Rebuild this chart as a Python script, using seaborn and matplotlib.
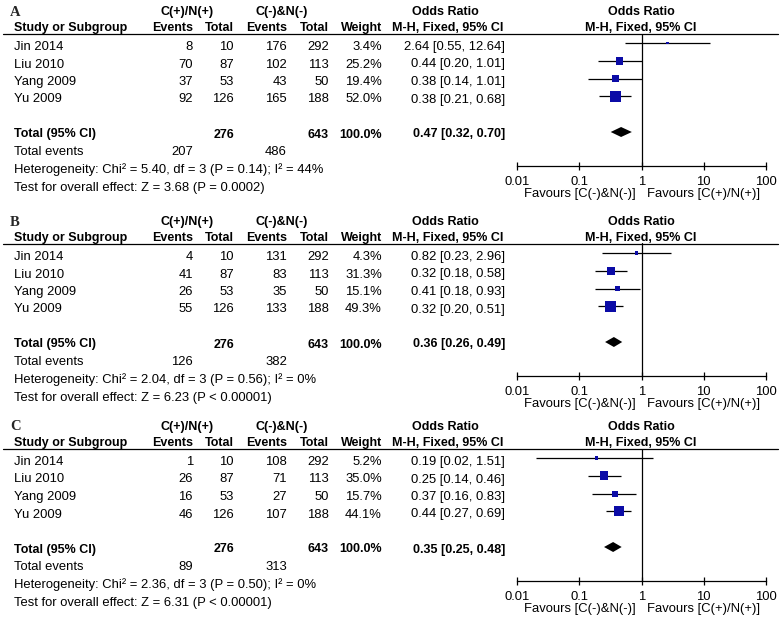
import numpy as np
import matplotlib
matplotlib.use("Agg")
import matplotlib.pyplot as plt
import seaborn as sns

# data (A, B, C)
panels = ["A", "B", "C"]
studies = ["Jin 2014", "Liu 2010", "Yang 2009", "Yu 2009"]
pos_total = [10, 87, 53, 126]
neg_total = [292, 113, 50, 188]
pos_events = [[8, 70, 37, 92], [4, 41, 26, 55], [1, 26, 16, 46]]
neg_events = [[176, 102, 43, 165], [131, 83, 35, 133], [108, 71, 27, 107]]
weights = [[3.4, 25.2, 19.4, 52.0], [4.3, 31.3, 15.1, 49.3], [5.2, 35.0, 15.7, 44.1]]
odds = [[2.64, 0.44, 0.38, 0.38], [0.82, 0.32, 0.41, 0.32], [0.19, 0.25, 0.37, 0.44]]
ci_lo = [[0.55, 0.20, 0.14, 0.21], [0.23, 0.18, 0.18, 0.20], [0.02, 0.14, 0.16, 0.27]]
ci_hi = [[12.64, 1.01, 1.01, 0.68], [2.96, 0.58, 0.93, 0.51], [1.51, 0.46, 0.83, 0.69]]
total_or = [0.47, 0.36, 0.35]
total_lo = [0.32, 0.26, 0.25]
total_hi = [0.70, 0.49, 0.48]
total_pos_events = [207, 126, 89]
total_neg_events = [486, 382, 313]
chi2 = [5.40, 2.04, 2.36]
chi2_p = [0.14, 0.56, 0.50]
i2 = [44, 0, 0]
z_vals = [3.68, 6.23, 6.31]
z_p = ["= 0.0002", "< 0.00001", "< 0.00001"]
ticks = [0.01, 0.1, 1, 10, 100]
tick_labels = ["0.01", "0.1", "1", "10", "100"]

sns.set_style("white")
plt.rcParams["font.family"] = ["Liberation Sans", "DejaVu Sans"]

W, H = 782, 622
fig = plt.figure(figsize=(W / 100, H / 100), dpi=100)
bg = fig.add_axes([0, 0, 1, 1])
bg.set_xlim(0, W)
bg.set_ylim(H, 0)
bg.axis("off")

fs = 9.4      # regular text
fs_b = 9.0    # bold text
blue = "#0b0ba6"
offsets = [0, 210, 415]

def txt(x, y, s, ha="left", bold=False, **kw):
    bg.text(x, y, s, ha=ha, va="center", fontsize=fs_b if bold else fs,
            fontweight="bold" if bold else "normal", color="black", **kw)

for p, off in enumerate(offsets):
    # header
    bg.text(10, 12 + off, panels[p], ha="left", va="center", fontsize=10.5,
            fontweight="bold", family="Liberation Serif")
    txt(187, 12 + off, "C(+)/N(+)", ha="center", bold=True)
    txt(282, 12 + off, "C(-)&N(-)", ha="center", bold=True)
    txt(445, 12 + off, "Odds Ratio", ha="center", bold=True)
    txt(641, 12 + off, "Odds Ratio", ha="center", bold=True)
    txt(14, 28 + off, "Study or Subgroup", bold=True)
    txt(193, 28 + off, "Events", ha="right", bold=True)
    txt(234, 28 + off, "Total", ha="right", bold=True)
    txt(287, 28 + off, "Events", ha="right", bold=True)
    txt(329, 28 + off, "Total", ha="right", bold=True)
    txt(382, 28 + off, "Weight", ha="right", bold=True)
    txt(448, 28 + off, "M-H, Fixed, 95% CI", ha="center", bold=True)
    txt(641, 28 + off, "M-H, Fixed, 95% CI", ha="center", bold=True)
    bg.plot([3, 778], [33.5 + off, 33.5 + off], color="black", lw=0.9)

    # study rows
    for i, name in enumerate(studies):
        y = 47 + 17.5 * i + off
        txt(14, y, name)
        txt(193, y, str(pos_events[p][i]), ha="right")
        txt(234, y, str(pos_total[i]), ha="right")
        txt(287, y, str(neg_events[p][i]), ha="right")
        txt(329, y, str(neg_total[i]), ha="right")
        txt(382, y, f"{weights[p][i]:.1f}%", ha="right")
        txt(505, y, f"{odds[p][i]:.2f} [{ci_lo[p][i]:.2f}, {ci_hi[p][i]:.2f}]", ha="right")

    y = 134.5 + off
    txt(14, y, "Total (95% CI)", bold=True)
    txt(234, y, str(sum(pos_total)), ha="right", bold=True)
    txt(329, y, str(sum(neg_total)), ha="right", bold=True)
    txt(382, y, "100.0%", ha="right", bold=True)
    txt(505, y, f"{total_or[p]:.2f} [{total_lo[p]:.2f}, {total_hi[p]:.2f}]", ha="right", bold=True)
    txt(14, 152 + off, "Total events")
    txt(193, 152 + off, str(total_pos_events[p]), ha="right")
    txt(287, 152 + off, str(total_neg_events[p]), ha="right")
    txt(14, 170 + off, f"Heterogeneity: Chi\u00b2 = {chi2[p]:.2f}, df = 3 (P = {chi2_p[p]:.2f}); I\u00b2 = {i2[p]}%")
    txt(14, 188 + off, f"Test for overall effect: Z = {z_vals[p]:.2f} (P {z_p[p]})")

    # forest axes
    top, bottom = 33.5 + off, 166 + off
    ax = fig.add_axes([517 / W, 1 - bottom / H, (766 - 517) / W, (bottom - top) / H])
    ax.patch.set_alpha(0)
    ax.set_xscale("log")
    rows = np.arange(len(studies))
    ax.hlines(rows, ci_lo[p], ci_hi[p], color="black", lw=0.9, zorder=2)
    w = weights[p]
    c = 1.14
    sns.scatterplot(x=odds[p], y=rows, size=w, sizes=(c * min(w), c * max(w)),
                    marker="s", color=blue, linewidth=0, legend=False, ax=ax, zorder=3)
    tr = 5
    h = 0.28
    ax.fill([total_lo[p], total_or[p], total_hi[p], total_or[p]],
            [tr, tr - h, tr, tr + h], color="black", lw=0, zorder=3)
    ax.axvline(1, color="black", lw=0.9, zorder=1)
    ax.set_xlim(0.01, 100)
    ax.set_ylim((166 - 43) / 17.8, (33.5 - 43) / 17.8)
    ax.set_xticks(ticks)
    ax.set_xticklabels(tick_labels, fontsize=fs)
    ax.minorticks_off()
    ax.set_yticks([])
    ax.set_xlabel("")
    ax.set_ylabel("")
    for s in ["top", "left", "right"]:
        ax.spines[s].set_visible(False)
    ax.spines["bottom"].set_color("black")
    ax.spines["bottom"].set_linewidth(0.9)
    ax.tick_params(axis="x", direction="inout", length=6, width=0.9, pad=4.5,
                   colors="black", bottom=True)

    txt(580, bottom + 28, "Favours [C(-)&N(-)]", ha="center")
    txt(703.5, bottom + 28, "Favours [C(+)/N(+)]", ha="center")

fig.savefig("out.png", dpi=100)
